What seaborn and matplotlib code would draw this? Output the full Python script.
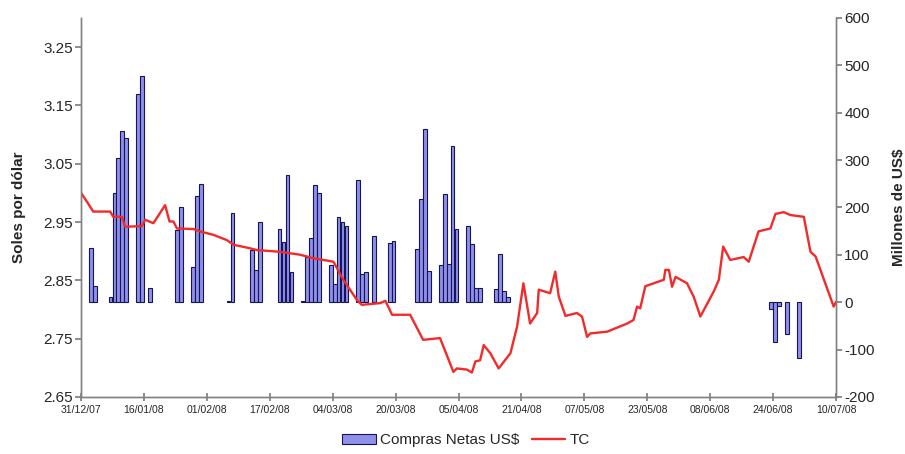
import matplotlib
matplotlib.use("Agg")
import matplotlib.pyplot as plt
import seaborn as sns
import pandas as pd
import numpy as np
from matplotlib.patches import Patch
from matplotlib.lines import Line2D

# ---------------- data ----------------
bar_dates = [
    "2008-01-02", "2008-01-03",
    "2008-01-07", "2008-01-08", "2008-01-09", "2008-01-10", "2008-01-11",
    "2008-01-14", "2008-01-15", "2008-01-17",
    "2008-01-24", "2008-01-25",
    "2008-01-28", "2008-01-29", "2008-01-30",
    "2008-02-06", "2008-02-07",
    "2008-02-12", "2008-02-13", "2008-02-14",
    "2008-02-19", "2008-02-20", "2008-02-21", "2008-02-22",
    "2008-02-25", "2008-02-26", "2008-02-27", "2008-02-28", "2008-02-29",
    "2008-03-03", "2008-03-04", "2008-03-05", "2008-03-06", "2008-03-07",
    "2008-03-10", "2008-03-11", "2008-03-12", "2008-03-14",
    "2008-03-18", "2008-03-19",
    "2008-03-25", "2008-03-26", "2008-03-27", "2008-03-28",
    "2008-03-31", "2008-04-01", "2008-04-02", "2008-04-03", "2008-04-04",
    "2008-04-07", "2008-04-08", "2008-04-09", "2008-04-10",
    "2008-04-14", "2008-04-15", "2008-04-16", "2008-04-17",
    "2008-06-23", "2008-06-24", "2008-06-25", "2008-06-27", "2008-06-30",
]
compras = [
    114, 35,
    12, 230, 304, 362, 346,
    439, 478, 29,
    153, 200,
    74, 225, 249,
    2, 189,
    111, 69, 170,
    154, 128, 269, 63,
    2, 95, 135, 248, 230,
    79, 39, 179, 170, 160,
    258, 60, 63, 140,
    125, 130,
    112, 218, 366, 66,
    78, 229, 81, 329, 154,
    160, 123, 30, 30,
    28, 102, 23, 11,
    -15, -83, -8, -67, -118,
]

# TC line: days counted from 31/12/07, values in soles per dollar
tc_day = [0.0, 1.5, 3.1, 7.4, 8.2, 10.4, 11.2, 15.5, 16.3, 18.4, 21.4, 22.5,
          23.5, 24.4, 28.6, 30.3, 33.7, 37.1, 38.8, 43.0, 44.7, 50.6, 55.7,
          59.1, 64.2, 66.7, 70.2, 71.4, 76.1, 77.4, 79.1, 83.7, 87.0, 91.3,
          94.7, 95.6, 98.1, 99.4, 100.3, 101.5, 102.4, 104.1, 106.2, 109.2,
          110.9, 112.5, 114.2, 116.0, 116.4, 119.3, 120.6, 121.5, 123.2,
          126.1, 127.4, 128.7, 129.5, 133.8, 138.9, 140.5, 141.4, 142.2,
          143.5, 148.2, 148.6, 149.5, 150.3, 151.2, 154.1, 155.8, 157.5,
          160.9, 162.2, 163.3, 165.1, 168.5, 169.8, 172.3, 175.3, 176.6,
          178.7, 180.4, 183.8, 185.5, 186.8, 191.4, 192.0]
tc_val = [3.000, 2.985, 2.968, 2.968, 2.959, 2.959, 2.942, 2.943, 2.954, 2.948,
          2.979, 2.951, 2.951, 2.939, 2.938, 2.934, 2.928, 2.919, 2.911, 2.905,
          2.902, 2.899, 2.894, 2.888, 2.882, 2.851, 2.816, 2.808, 2.811, 2.815,
          2.791, 2.791, 2.748, 2.751, 2.693, 2.699, 2.697, 2.692, 2.711, 2.713,
          2.739, 2.725, 2.699, 2.725, 2.771, 2.845, 2.776, 2.794, 2.834, 2.828,
          2.865, 2.822, 2.789, 2.794, 2.788, 2.753, 2.759, 2.762, 2.776, 2.782,
          2.805, 2.802, 2.840, 2.851, 2.868, 2.868, 2.839, 2.856, 2.845, 2.822,
          2.788, 2.831, 2.851, 2.908, 2.885, 2.890, 2.882, 2.934, 2.939, 2.964,
          2.967, 2.962, 2.959, 2.899, 2.891, 2.805, 2.813]

tick_labels = ["31/12/07", "16/01/08", "01/02/08", "17/02/08", "04/03/08",
               "20/03/08", "05/04/08", "21/04/08", "07/05/08", "23/05/08",
               "08/06/08", "24/06/08", "10/07/08"]
left_ticks = [2.65, 2.75, 2.85, 2.95, 3.05, 3.15, 3.25]
right_ticks = [-200, -100, 0, 100, 200, 300, 400, 500, 600]

# ---------------- style ----------------
sns.set_theme(style="white")
plt.rcParams["font.family"] = ["Liberation Sans", "DejaVu Sans"]

base = pd.Timestamp("2007-12-31")
bar_x = (pd.to_datetime(bar_dates) - base).days.values + 0.5
tick_x = [(pd.to_datetime(t, dayfirst=True) - base).days for t in tick_labels]

fig = plt.figure(figsize=(9.05, 4.54), dpi=100)
ax = fig.add_axes([0.0895, 0.1256, 0.8343, 0.8348])
ax2 = ax.twinx()

bar_face = "#9090ea"
bar_edge = "#14145a"
sns.barplot(x=bar_x, y=compras, native_scale=True, ax=ax2, color=bar_face,
            saturation=1, edgecolor=bar_edge, linewidth=0.8, width=0.95,
            errorbar=None)

line_color = "#f22a2a"
sns.lineplot(x=tc_day, y=tc_val, ax=ax, color=line_color, linewidth=1.7)

ax.set_zorder(ax2.get_zorder() + 1)
ax.patch.set_visible(False)

ax.set_xlim(0, 192)
ax.set_xticks(tick_x)
ax.set_xticklabels(tick_labels, fontsize=7.5,
                   family=["Liberation Sans Narrow", "Liberation Sans"])
ax.set_ylim(2.65, 3.30)
ax.set_yticks(left_ticks)
ax.set_yticklabels([f"{v:.2f}" for v in left_ticks], fontsize=11)
ax2.set_ylim(-200, 600)
ax2.set_yticks(right_ticks)
ax2.set_yticklabels([str(v) for v in right_ticks], fontsize=11)

ax.set_ylabel("Soles por dólar", fontsize=11, fontweight="bold", labelpad=12)
ax2.set_ylabel("Millones de US$", fontsize=11, fontweight="bold", labelpad=12)
ax.set_xlabel("")
ax2.set_xlabel("")

for a in (ax, ax2):
    a.spines["top"].set_visible(False)
    for s in ("left", "right", "bottom"):
        a.spines[s].set_color("#808080")
        a.spines[s].set_linewidth(1.0)
ax.tick_params(axis="y", which="both", direction="out", length=4, color="#808080",
               left=True, pad=2)
ax.tick_params(axis="x", direction="inout", length=6, color="#808080",
               bottom=True, pad=3)
ax2.tick_params(axis="y", direction="out", length=4, color="#808080",
                right=True, pad=2)
ax2.tick_params(axis="x", bottom=False, labelbottom=False)

handles = [Patch(facecolor=bar_face, edgecolor=bar_edge, linewidth=0.8),
           Line2D([0], [0], color=line_color, linewidth=1.7)]
fig.legend(handles, ["Compras Netas US$", "TC"], loc="center",
           bbox_to_anchor=(0.515, 0.03), ncol=2, frameon=False, fontsize=11,
           handlelength=2.2, columnspacing=0.8, handletextpad=0.3)

fig.savefig("out.png", dpi=100)
